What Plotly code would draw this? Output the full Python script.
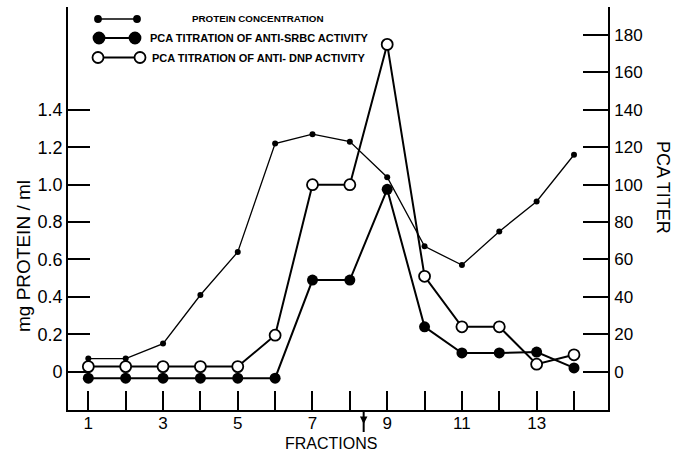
import plotly.graph_objects as go

fractions = list(range(1, 15))
protein = [0.07, 0.07, 0.15, 0.41, 0.64, 1.22, 1.27, 1.23, 1.04, 0.67, 0.57, 0.75, 0.91, 1.16]
srbc = [-3.5, -3.5, -3.5, -3.5, -3.5, -3.5, 49, 49, 97.5, 24, 10, 10, 10.5, 2]
dnp = [2.7, 2.7, 2.7, 2.7, 2.7, 19.5, 100, 100, 175, 51, 24, 24, 4, 9]

left_ticks = [0, 0.2, 0.4, 0.6, 0.8, 1.0, 1.2, 1.4]
left_labels = ["0", "0.2", "0.4", "0.6", "0.8", "1.0", "1.2", "1.4"]
right_ticks = [0, 20, 40, 60, 80, 100, 120, 140, 160, 180]
x_labels = ["1", "", "3", "", "5", "", "7", "", "9", "", "11", "", "13", ""]

legend_names = ["PROTEIN CONCENTRATION",
                "PCA TITRATION OF ANTI-SRBC ACTIVITY",
                "PCA TITRATION OF ANTI- DNP ACTIVITY"]

FONT = "Liberation Sans"
W, H = 673, 455
ML, MR, MT, MB = 68, 65, 7, 45
PW, PH = W - ML - MR, H - MT - MB

fig = go.Figure()
fig.add_trace(go.Scatter(x=fractions, y=protein, mode="lines+markers", name=legend_names[0],
                         line=dict(color="black", width=1.3),
                         marker=dict(color="black", size=6), yaxis="y"))
fig.add_trace(go.Scatter(x=fractions, y=srbc, mode="lines+markers", name=legend_names[1],
                         line=dict(color="black", width=2),
                         marker=dict(color="black", size=11), yaxis="y2"))
fig.add_trace(go.Scatter(x=fractions, y=dnp, mode="lines+markers", name=legend_names[2],
                         line=dict(color="black", width=2),
                         marker=dict(color="white", size=11, line=dict(color="black", width=1.8)),
                         yaxis="y2"))

def px(x):
    return (x - ML) / PW

def py(y):
    return (H - MB - y) / PH

shapes = []
annotations = []
leg = [
    (98, 137, 19, 6, "black", "black", 1.3, 190, 9.8),
    (99, 135, 38, 11, "black", "black", 2, 148, 11),
    (98, 140, 57.5, 11, "white", "black", 2, 150, 11),
]
for (x0, x1, yy, ms, fill, lc, lw, tx, fs), name in zip(leg, legend_names):
    shapes.append(dict(type="line", xref="paper", yref="paper", x0=px(x0), x1=px(x1),
                       y0=py(yy), y1=py(yy), line=dict(color="black", width=lw), layer="above"))
    for xc in (x0, x1):
        shapes.append(dict(type="circle", xref="paper", yref="paper",
                           xsizemode="pixel", ysizemode="pixel",
                           xanchor=px(xc), yanchor=py(yy),
                           x0=-ms / 2, x1=ms / 2, y0=-ms / 2, y1=ms / 2,
                           fillcolor=fill, line=dict(color=lc, width=1.8), layer="above"))
    annotations.append(dict(xref="paper", yref="paper", x=px(tx), y=py(yy), xanchor="left",
                            yanchor="middle", showarrow=False, text="<b>" + name + "</b>",
                            font=dict(family=FONT, size=fs, color="black")))

# small arrow under the x axis between fractions 8 and 9
shapes.append(dict(type="line", xref="x", yref="paper", x0=8.37, x1=8.37,
                   y0=py(410), y1=py(432), line=dict(color="black", width=2)))
annotations.append(dict(x=8.37, y=py(424), xref="x", yref="paper", ax=0, ay=-8,
                        showarrow=True, arrowhead=2, arrowsize=1, arrowwidth=1.5,
                        arrowcolor="black", text=""))

annotations.append(dict(xref="paper", yref="paper", x=px(663), y=py(187), textangle=90,
                        xanchor="center", yanchor="middle",
                        showarrow=False, text="PCA TITER",
                        font=dict(family=FONT, size=18, color="black")))
annotations.append(dict(xref="paper", yref="paper", x=px(24), y=py(256), textangle=-90,
                        xanchor="center", yanchor="middle",
                        showarrow=False, text="mg PROTEIN / ml",
                        font=dict(family=FONT, size=19, color="black")))
annotations.append(dict(xref="paper", yref="paper", x=px(331), y=py(443),
                        xanchor="center", yanchor="middle",
                        showarrow=False, text="FRACTIONS",
                        font=dict(family=FONT, size=16, color="black")))

fig.update_layout(
    width=W, height=H,
    margin=dict(l=ML, r=MR, t=MT, b=MB, autoexpand=False),
    paper_bgcolor="white", plot_bgcolor="white",
    showlegend=False,
    font=dict(family=FONT, color="black", size=17),
    shapes=shapes, annotations=annotations,
    xaxis=dict(range=[0.456, 14.91], tickvals=fractions, ticktext=x_labels,
               ticks="inside", ticklen=19, tickwidth=1.5, tickcolor="black",
               showline=True, linecolor="black", linewidth=1.8, showgrid=False,
               zeroline=False, mirror=False, automargin=False, ticklabelstandoff=-3),
    yaxis=dict(range=[-0.205, 1.95], tickvals=left_ticks, ticktext=left_labels,
               ticks="inside", ticklen=22, tickwidth=1.5, tickcolor="black",
               showline=True, linecolor="black", linewidth=1.8, showgrid=False,
               zeroline=False, automargin=False, ticklabelstandoff=0,
               tickfont=dict(size=18)),
    yaxis2=dict(range=[-20.5, 195], tickvals=right_ticks, overlaying="y", side="right",
                ticks="inside", ticklen=25, tickwidth=1.5, tickcolor="black",
                showline=True, linecolor="black", linewidth=1.8, showgrid=False,
                zeroline=False, automargin=False, ticklabelstandoff=1),
)

fig.write_html("out.html", config={"displayModeBar": False},
               post_script="document.body.style.margin='0px';document.body.style.overflow='hidden';")
